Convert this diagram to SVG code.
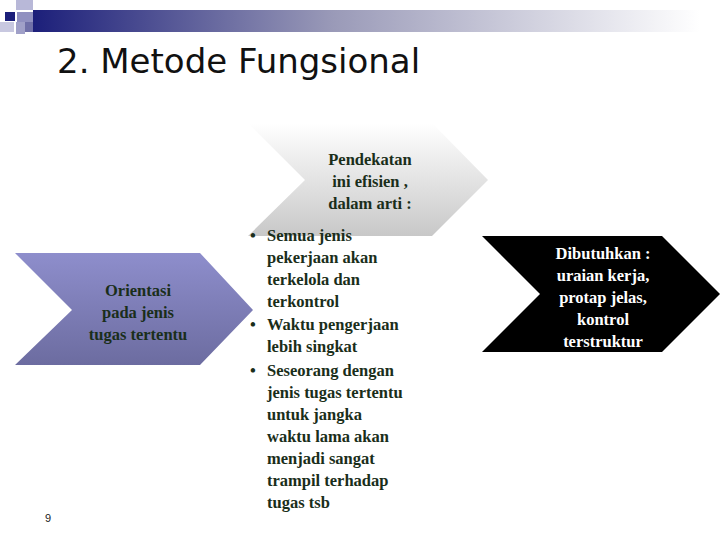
<svg xmlns="http://www.w3.org/2000/svg" width="720" height="540" viewBox="0 0 720 540">
<defs>
<linearGradient id="band" x1="0" x2="1" y1="0" y2="0"><stop offset="0" stop-color="#1c1f7a"/><stop offset="0.45" stop-color="#9a9ab8"/><stop offset="1" stop-color="#ffffff"/></linearGradient>
<linearGradient id="grey" x1="0" x2="0" y1="0" y2="1"><stop offset="0" stop-color="#ffffff"/><stop offset="1" stop-color="#c8c8c8"/></linearGradient>
<linearGradient id="purp" x1="0" x2="0" y1="0" y2="1"><stop offset="0" stop-color="#8e8ecc"/><stop offset="1" stop-color="#6c6ca0"/></linearGradient>
</defs>
<style>
.t{font-family:"Liberation Serif",serif;font-weight:bold;font-size:16.5px;fill:#1a2e1a;text-anchor:middle}
.b{font-family:"Liberation Serif",serif;font-weight:bold;font-size:16.5px;fill:#1a2e1a}
.w{font-family:"Liberation Serif",serif;font-weight:bold;font-size:16.5px;fill:#ffffff;text-anchor:middle}
</style>
<rect width="720" height="540" fill="#fff"/>
<g id="decor">
<rect x="33" y="10" width="667" height="22" fill="url(#band)"/>
<rect x="16" y="0" width="17" height="10" fill="#b8b8d8"/>
<rect x="5" y="12" width="10" height="9" fill="#1c1f7a"/>
<rect x="17" y="12" width="16" height="10" fill="#9090c0"/>
<rect x="0" y="22" width="14" height="10" fill="#c8c8e0"/>
<rect x="16" y="22" width="9" height="12" fill="#a0a0c8"/>
<rect x="25" y="22" width="8" height="10" fill="#7070a8"/>
</g>
<text x="57" y="73" font-family="DejaVu Sans, sans-serif" font-size="34" fill="#111">2. Metode Fungsional</text>
<g id="n1">
<polygon points="15,253 200,253 253,310 200,365 15,365 72,310" fill="url(#purp)"/>
<text class="t" x="138" y="296">Orientasi</text>
<text class="t" x="138" y="318">pada jenis</text>
<text class="t" x="138" y="340">tugas tertentu</text>
</g>
<g id="n2">
<polygon points="248,123 432,123 488,180 432,236 248,236 305,180" fill="url(#grey)"/>
<text class="t" x="370" y="165">Pendekatan</text>
<text class="t" x="370" y="187">ini efisien ,</text>
<text class="t" x="370" y="209">dalam arti :</text>
</g>
<g id="n3">
<polygon points="482,236 662,236 720,294 662,352 482,352 540,294" fill="#000"/>
<text class="w" x="603" y="259">Dibutuhkan :</text>
<text class="w" x="603" y="281">uraian kerja,</text>
<text class="w" x="603" y="303">protap jelas,</text>
<text class="w" x="603" y="325">kontrol</text>
<text class="w" x="603" y="347">terstruktur</text>
</g>
<g id="list">
<text class="b" x="250" y="241">•</text><text class="b" x="267" y="241">Semua jenis</text>
<text class="b" x="267" y="263">pekerjaan akan</text>
<text class="b" x="267" y="285">terkelola dan</text>
<text class="b" x="267" y="307">terkontrol</text>
<text class="b" x="250" y="330">•</text><text class="b" x="267" y="330">Waktu pengerjaan</text>
<text class="b" x="267" y="352">lebih singkat</text>
<text class="b" x="250" y="376">•</text><text class="b" x="267" y="376">Seseorang dengan</text>
<text class="b" x="267" y="398">jenis tugas tertentu</text>
<text class="b" x="267" y="420">untuk jangka</text>
<text class="b" x="267" y="442">waktu lama akan</text>
<text class="b" x="267" y="464">menjadi sangat</text>
<text class="b" x="267" y="486">trampil terhadap</text>
<text class="b" x="267" y="508">tugas tsb</text>
</g>
<g id="connectors"/>
<text x="45" y="522" font-family="Liberation Sans, sans-serif" font-size="11" fill="#222">9</text>
</svg>
